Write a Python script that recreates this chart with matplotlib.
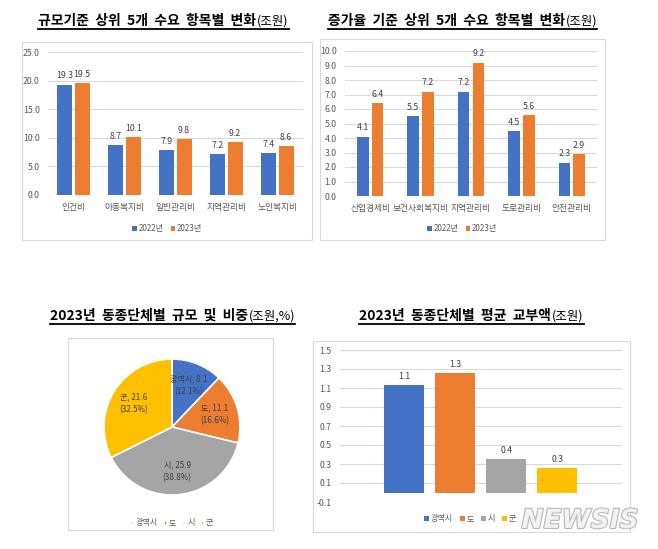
import matplotlib
matplotlib.use('Agg')
import matplotlib.pyplot as plt
import matplotlib.patheffects as pe
from matplotlib.patches import Rectangle
from matplotlib.lines import Line2D
import numpy as np

plt.rcParams['font.family'] = ['Noto Sans CJK KR', 'DejaVu Sans']

# data
size_items = ['인건비', '아동복지비', '일반관리비', '지역관리비', '노인복지비']
size_2022 = [19.3, 8.7, 7.9, 7.2, 7.4]
size_2023 = [19.5, 10.1, 9.8, 9.2, 8.6]

growth_items = ['산업경제비', '보건사회복지비', '지역관리비', '도로관리비', '안전관리비']
growth_2022 = [4.1, 5.5, 7.2, 4.5, 2.3]
growth_2023 = [6.4, 7.2, 9.2, 5.6, 2.9]

gov_types = ['광역시', '도', '시', '군']
gov_size = [8.1, 11.1, 25.9, 21.6]
gov_share = [12.1, 16.6, 38.8, 32.5]

avg_grant = [1.13, 1.26, 0.35, 0.26]
avg_grant_labels = ['1.1', '1.3', '0.4', '0.3']

years = ['2022년', '2023년']

BLUE = '#4472C4'
ORANGE = '#ED7D31'
GRAY = '#A5A5A5'
YELLOW = '#FFC000'
TXT = '#595959'

W, H = 658, 549
fig = plt.figure(figsize=(W / 100, H / 100), dpi=100)
renderer = fig.canvas.get_renderer()


def ax_px(l, t, r, b):
    return fig.add_axes([l / W, 1 - b / H, (r - l) / W, (b - t) / H])


def box(l, t, r, b):
    fig.add_artist(Rectangle((l / W, 1 - b / H), (r - l) / W, (b - t) / H,
                             transform=fig.transFigure, fill=False,
                             edgecolor='#D9D9D9', lw=0.8))


def title(cx, base, main, suffix):
    t1 = fig.text(0, 1 - base / H, main, fontsize=10, fontweight='bold',
                  va='baseline', color='black')
    t2 = fig.text(0, 1 - base / H, suffix, fontsize=9, va='baseline', color='black')
    w1 = t1.get_window_extent(renderer).width
    w2 = t2.get_window_extent(renderer).width
    x0 = cx - (w1 + w2) / 2
    t1.set_x(x0 / W)
    t2.set_x((x0 + w1 + 1) / W)
    fig.add_artist(Line2D([x0 / W, (x0 + w1 + w2 + 1) / W],
                          [1 - (base + 3.5) / H] * 2,
                          transform=fig.transFigure, color='black', lw=1.3))


def style_axes(ax):
    for s in ax.spines.values():
        s.set_visible(False)
    ax.yaxis.grid(True, color='#D9D9D9', lw=0.8)
    ax.set_axisbelow(True)
    ax.tick_params(length=0, labelsize=6.3, labelcolor=TXT)
    ax.tick_params(axis='y', pad=6)
    ax.tick_params(axis='x', pad=6)


def bar_labels(ax, bars, texts):
    for b, t in zip(bars, texts):
        ax.annotate(t, (b.get_x() + b.get_width() / 2, b.get_height()),
                    xytext=(0, 3), textcoords='offset points',
                    ha='center', va='bottom', fontsize=6.3, color='#404040')


def grouped(ax, items, a, b, w, off, ymax, step, legend_cx):
    x = np.arange(len(items))
    b1 = ax.bar(x - off, a, w, color=BLUE, label=years[0])
    b2 = ax.bar(x + off, b, w, color=ORANGE, label=years[1])
    bar_labels(ax, b1, [f'{v:.1f}' for v in a])
    bar_labels(ax, b2, [f'{v:.1f}' for v in b])
    ax.set_xlim(-0.5, len(items) - 0.5)
    ax.set_ylim(0, ymax)
    ax.set_yticks(np.arange(0, ymax + 0.01, step))
    ax.set_yticklabels([f'{v:.1f}' for v in np.arange(0, ymax + 0.01, step)])
    ax.set_xticks(x)
    ax.set_xticklabels(items)
    style_axes(ax)
    ax.legend(loc='center', bbox_to_anchor=(legend_cx / W, 1 - 229 / H),
              bbox_transform=fig.transFigure, ncol=2, frameon=False,
              fontsize=5.8, handlelength=0.6, handleheight=0.6,
              handletextpad=0.2, columnspacing=0.9, labelcolor=TXT)


# panel 1
box(22, 42, 312, 240)
title(163, 25, '규모기준  상위  5개  수요  항목별  변화', '(조원)')
ax1 = ax_px(48, 52, 303, 195)
grouped(ax1, size_items, size_2022, size_2023, 0.29, 0.17, 25, 5, 167)

# panel 2
box(320, 39, 605, 240)
title(462, 25, '증가율  기준  상위  5개  수요  항목별  변화', '(조원)')
ax2 = ax_px(345, 51, 597, 196)
grouped(ax2, growth_items, growth_2022, growth_2023, 0.23, 0.145, 10, 1, 462)

# panel 3 - pie
box(68, 338, 273, 530)
title(172, 320, '2023년  동종단체별  규모  및  비중', '(조원,%)')
ax3 = ax_px(104, 359, 240, 495)
wedges, _ = ax3.pie(gov_size, colors=[BLUE, ORANGE, GRAY, YELLOW], startangle=90,
                    counterclock=False, radius=1,
                    wedgeprops=dict(edgecolor='white', lw=1.2))
for wdg, name, v, s in zip(wedges, gov_types, gov_size, gov_share):
    ang = np.deg2rad((wdg.theta1 + wdg.theta2) / 2)
    r = 0.66
    ax3.text(r * np.cos(ang), r * np.sin(ang), f'{name}, {v:.1f}\n({s:.1f}%)',
             ha='center', va='center', fontsize=5.8, color='#404040', linespacing=1.5)
ax3.set_xlim(-1, 1)
ax3.set_ylim(-1, 1)
ax3.legend(wedges, gov_types, loc='center', bbox_to_anchor=(172 / W, 1 - 523 / H),
           bbox_transform=fig.transFigure, ncol=4, frameon=False, fontsize=5.8,
           handlelength=0.35, handleheight=0.35, handletextpad=0.25,
           columnspacing=0.8, labelcolor=TXT)

# panel 4
box(313, 341, 630, 532)
title(471, 320, '2023년  동종단체별  평균  교부액', '(조원)')
ax4 = ax_px(340, 350, 622, 502)
x4 = np.arange(len(gov_types))
bars4 = ax4.bar(x4, avg_grant, 0.78, color=[BLUE, ORANGE, GRAY, YELLOW])
bar_labels(ax4, bars4, avg_grant_labels)
ax4.set_xlim(-1.26, 4.27)
ax4.set_ylim(-0.1, 1.5)
yt = np.arange(-0.1, 1.51, 0.2)
ax4.set_yticks(yt)
ax4.set_yticklabels([f'{v:.1f}' for v in yt])
ax4.set_xticks([])
style_axes(ax4)
ax4.legend(bars4, gov_types, loc='center', bbox_to_anchor=(470 / W, 1 - 519 / H),
           bbox_transform=fig.transFigure, ncol=4, frameon=False, fontsize=5.8,
           handlelength=0.6, handleheight=0.6, handletextpad=0.2,
           columnspacing=0.9, labelcolor=TXT)

# watermark
fig.text(580 / W, 1 - 521 / H, 'NEWSIS', fontsize=19, fontweight='bold',
         fontstyle='italic', family='DejaVu Sans', color='#F4F4F4', ha='center',
         va='center', alpha=0.9,
         path_effects=[pe.withStroke(linewidth=1.5, foreground='#B0B0B0')])

fig.savefig('out.png', dpi=100)
